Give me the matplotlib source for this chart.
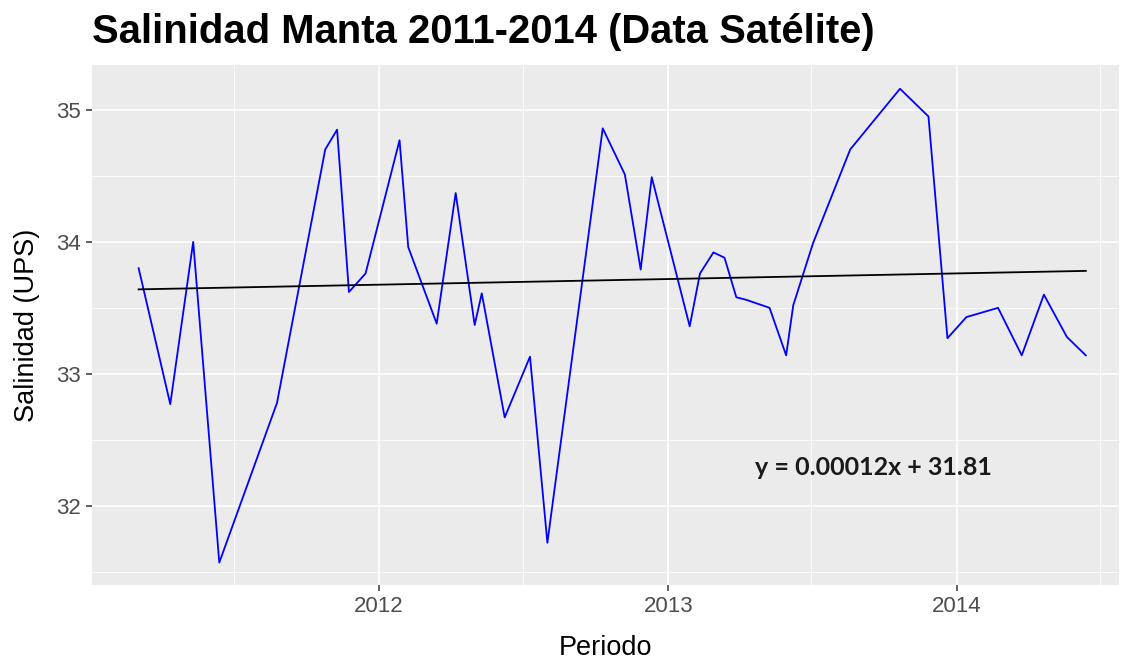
import matplotlib
matplotlib.use("Agg")
import matplotlib.pyplot as plt
import matplotlib.dates as mdates
import numpy as np
import pandas as pd

# salinidad satelital, Manta
fechas = ["2011-03-03", "2011-04-12", "2011-05-11", "2011-06-13", "2011-08-25",
          "2011-10-25", "2011-11-09", "2011-11-24", "2011-12-15", "2012-01-27",
          "2012-02-07", "2012-03-14", "2012-04-07", "2012-05-01", "2012-05-10",
          "2012-06-08", "2012-07-10", "2012-08-01", "2012-10-10", "2012-11-07",
          "2012-11-27", "2012-12-11", "2013-01-28", "2013-02-10", "2013-02-27",
          "2013-03-13", "2013-03-28", "2013-04-10", "2013-05-09", "2013-05-30",
          "2013-06-08", "2013-07-03", "2013-08-19", "2013-10-21", "2013-11-26",
          "2013-12-20", "2014-01-13", "2014-02-22", "2014-03-24", "2014-04-21",
          "2014-05-20", "2014-06-13"]
salinidad = [33.80, 32.77, 34.00, 31.57, 32.78,
             34.70, 34.85, 33.62, 33.76, 34.77,
             33.96, 33.38, 34.37, 33.37, 33.61,
             32.67, 33.13, 31.72, 34.86, 34.51,
             33.79, 34.49, 33.36, 33.76, 33.92,
             33.88, 33.58, 33.56, 33.50, 33.14,
             33.52, 33.99, 34.70, 35.16, 34.95,
             33.27, 33.43, 33.50, 33.14, 33.60,
             33.28, 33.14]

# recta de tendencia (extremos leidos)
tendencia = [33.64, 33.78]
ecuacion = "y = 0.00012x + 31.81"

fechas = pd.to_datetime(fechas)

fig = plt.figure(figsize=(11.21, 6.59), dpi=100)
ax = fig.add_axes([92/1121, 1-585/659, 1027/1121, 520/659])
ax.set_facecolor("#EBEBEB")

ax.plot(fechas, salinidad, color="blue", lw=1.3, zorder=3)
ax.plot([fechas[0], fechas[-1]], tendencia, color="black", lw=1.3, zorder=3)

ax.text(pd.Timestamp("2013-04-21"), 32.29, ecuacion, family="Lato",
        fontweight="bold", fontsize=18, ha="left", va="center", color="#1a1a1a")

ax.set_xlim(pd.Timestamp("2011-01-03"), pd.Timestamp("2014-07-25"))
ax.set_ylim(31.40, 35.34)

ax.xaxis.set_major_locator(mdates.YearLocator())
ax.xaxis.set_major_formatter(mdates.DateFormatter("%Y"))
ax.xaxis.set_minor_locator(mdates.MonthLocator(bymonth=7))
ax.set_yticks([32, 33, 34, 35])
ax.set_yticks([31.5, 32.5, 33.5, 34.5], minor=True)

ax.grid(which="major", color="white", lw=1.2)
ax.grid(which="minor", color="white", lw=0.6)
ax.set_axisbelow(True)
for s in ax.spines.values():
    s.set_visible(False)

ax.tick_params(which="major", length=4, width=1.1, color="#333333",
               labelsize=16, labelcolor="#4D4D4D", pad=4)
ax.tick_params(which="minor", length=0)

ax.set_xlabel("Periodo", fontsize=19.5, family="Liberation Sans")
ax.set_ylabel("Salinidad (UPS)", fontsize=19.5, family="Liberation Sans")
ax.xaxis.set_label_coords(0.5, -0.121)
ax.xaxis.label.set_va("center")
ax.yaxis.set_label_coords(-0.0633, 0.5)
ax.yaxis.label.set_va("center")
for lb in ax.get_xticklabels() + ax.get_yticklabels():
    lb.set_family("Liberation Sans")

fig.text(92/1121, 1-43/659, "Salinidad Manta 2011-2014 (Data Satélite)",
         fontsize=28.8, fontweight="bold", family="Liberation Sans",
         ha="left", va="baseline")

fig.savefig("out.png", dpi=100)
